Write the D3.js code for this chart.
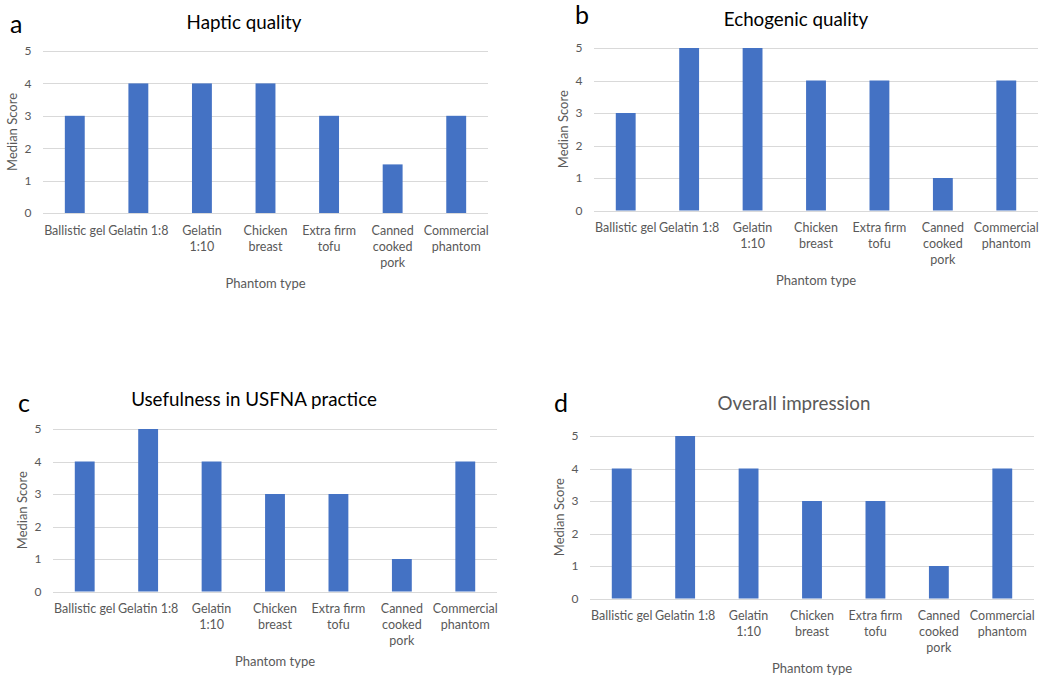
<!DOCTYPE html>
<html>
<head>
<meta charset="utf-8">
<script src="https://cdn.jsdelivr.net/npm/d3@7"></script>
<style>
  html, body { margin: 0; padding: 0; background: #ffffff; }
  svg { display: block; font-family: Lato, "Open Sans", sans-serif; }
</style>
</head>
<body>
<svg id="chart" width="1050" height="683"></svg>
<script>
// ---- Data ----
const categories = ["Ballistic gel", "Gelatin 1:8", "Gelatin\n1:10", "Chicken\nbreast", "Extra firm\ntofu", "Canned\ncooked\npork", "Commercial\nphantom"];
const hapticQuality     = [3, 4, 4, 4, 3, 1.5, 3];
const echogenicQuality  = [3, 5, 5, 4, 4, 1, 4];
const usefulnessUSFNA   = [4, 5, 4, 3, 3, 1, 4];
const overallImpression = [4, 5, 4, 3, 3, 1, 4];
const yTicks = [0, 1, 2, 3, 4, 5];
const panelTitles = ["Haptic quality", "Echogenic quality", "Usefulness in USFNA practice", "Overall impression"];
const panelLetters = ["a", "b", "c", "d"];
const xAxisTitle = "Phantom type";
const yAxisTitle = "Median Score";

// ---- Layout (positions only) ----
const panels = [
  { values: hapticQuality,     left: 43,  top: 51,  w: 445, h: 162, titleX: 244, titleY: 22,  titleColor: "#000000", letterX: 10,  letterY: 33 },
  { values: echogenicQuality,  left: 594, top: 48,  w: 444, h: 162.5, titleX: 796, titleY: 19,  titleColor: "#000000", letterX: 575, letterY: 24 },
  { values: usefulnessUSFNA,   left: 53,  top: 429, w: 444, h: 162.5, titleX: 254, titleY: 399, titleColor: "#000000", letterX: 18,  letterY: 412 },
  { values: overallImpression, left: 590, top: 436, w: 444, h: 162.5, titleX: 794, titleY: 403, titleColor: "#595959", letterX: 554, letterY: 412 }
];

const svg = d3.select("#chart");
svg.append("rect").attr("width", 1050).attr("height", 683).attr("fill", "#ffffff");

panels.forEach((p, i) => {
  const g = svg.append("g");
  const x = d3.scaleBand().domain(categories).range([p.left, p.left + p.w])
    .paddingInner(0.687).paddingOuter(0.3435);
  const y = d3.scaleLinear().domain([0, 5]).range([p.top + p.h, p.top]);

  // gridlines
  g.selectAll("line.grid").data(yTicks).join("line")
    .attr("x1", p.left).attr("x2", p.left + p.w)
    .attr("y1", d => Math.round(y(d)) + 0.5).attr("y2", d => Math.round(y(d)) + 0.5)
    .attr("stroke", "#D9D9D9").attr("stroke-width", 1);

  // y axis via d3.axisLeft (no domain/tick lines)
  const yAxis = g.append("g").attr("transform", `translate(${p.left},0)`)
    .call(d3.axisLeft(y).tickValues(yTicks).tickSize(0).tickPadding(15).tickFormat(d3.format("d")));
  yAxis.select(".domain").remove();
  yAxis.selectAll("text").attr("fill", "#595959").style("font-size", "12px")
    .style("font-family", "Lato, sans-serif").attr("text-anchor", "middle").attr("x", -15);

  // bars
  g.selectAll("rect.bar").data(p.values.map((v, j) => ({ c: categories[j], v }))).join("rect")
    .attr("x", d => x(d.c)).attr("width", x.bandwidth())
    .attr("y", d => y(d.v)).attr("height", d => y(0) - y(d.v))
    .attr("fill", "#4472C4");

  // x category labels (multi-line)
  const xl = g.selectAll("text.cat").data(categories).join("text")
    .attr("text-anchor", "middle").attr("fill", "#595959").style("font-size", "12.5px")
    .attr("transform", d => `translate(${x(d) + x.bandwidth() / 2},${p.top + p.h + 21.5})`);
  xl.each(function(d) {
    const lines = d.split("\n");
    d3.select(this).selectAll("tspan").data(lines).join("tspan")
      .attr("x", 0).attr("dy", (l, k) => k === 0 ? 0 : 16).text(l => l);
  });

  // axis titles
  g.append("text").attr("x", p.left + p.w / 2).attr("y", p.top + p.h + 74.5)
    .attr("text-anchor", "middle").attr("fill", "#595959").style("font-size", "13px").text(xAxisTitle);
  g.append("text")
    .attr("transform", `translate(${p.left - 26},${p.top + p.h / 2}) rotate(-90)`)
    .attr("text-anchor", "middle").attr("fill", "#595959").style("font-size", "13px").text(yAxisTitle);

  // panel title
  g.append("text").attr("x", p.titleX).attr("y", p.titleY + 6.5)
    .attr("text-anchor", "middle").attr("fill", p.titleColor).style("font-size", "18.8px").text(panelTitles[i]);

  // panel letter
  g.append("text").attr("x", p.letterX).attr("y", p.letterY)
    .attr("fill", "#000000").style("font-size", "25px").text(panelLetters[i]);
});
</script>
</body>
</html>
